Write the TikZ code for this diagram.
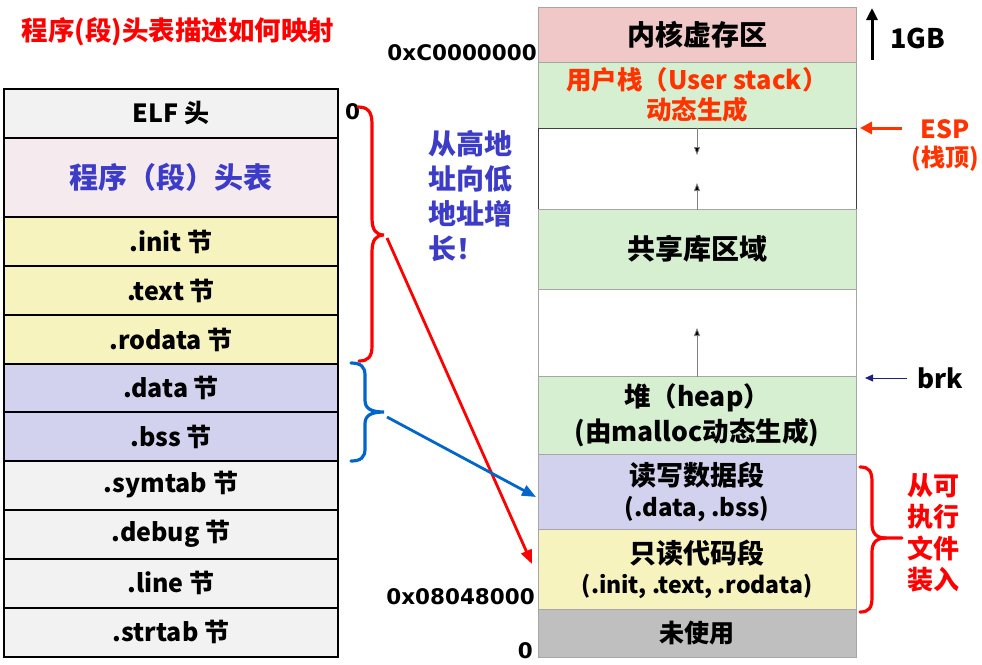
\documentclass[tikz,border=0pt]{standalone}
\usepackage{fontspec}
\setmainfont{Noto Sans CJK SC}
\newfontfamily\dvb{DejaVu Sans}
\usetikzlibrary{arrows.meta}
\definecolor{cgray}{HTML}{F2F2F2}
\definecolor{cpink}{HTML}{F5EBEF}
\definecolor{cyel}{HTML}{F6F3BE}
\definecolor{clav}{HTML}{D2D2EE}
\definecolor{ckern}{HTML}{F0C8C8}
\definecolor{cgreen}{HTML}{D6EFD0}
\definecolor{cunused}{HTML}{BFBFBF}
\definecolor{rline}{HTML}{A6A6A6}
\definecolor{tblue}{HTML}{3C3CC8}
\definecolor{tred}{HTML}{FF3300}
\definecolor{bblue}{HTML}{0066CC}
\definecolor{cnavy}{HTML}{1F1F7F}
\newcommand\fsz[2]{\fontsize{#1}{#2}\selectfont\bfseries}
\begin{document}
\begin{tikzpicture}[x=1pt,y=-1pt,
  lcell/.style={draw=black, line width=2pt, minimum width=334pt, inner sep=0pt, font=\fsz{25}{29}},
  rcell/.style={draw=rline, line width=1pt, minimum width=318pt, inner sep=0pt, align=center, font=\fsz{28}{32}},
  addr/.style={inner sep=0pt, font=\dvb\fsz{21.5}{24}},
  gline/.style={draw=gray, line width=0.8pt, -{Triangle[length=8pt,width=6pt,fill=black]}},
  bracestyle/.style={line width=3.2pt, line cap=round}
]
\useasboundingbox (0,0) rectangle (982,664);

% title
\node[inner sep=0pt, text=red, font=\fsz{26.5}{30}] (title) at (178,32) {程序(段)头表描述如何映射};

% left table
\node[lcell, fill=cgray, minimum height=49pt] (elf) at (171,113.5) {ELF 头};
\node[lcell, fill=cpink, minimum height=79pt, text=tblue, font=\fsz{29}{32}] (pht) at (171,177.5) {程序（段）头表};
\node[lcell, fill=cyel, minimum height=49pt] (init) at (171,241.5) {.init 节};
\node[lcell, fill=cyel, minimum height=49pt] (text) at (171,290.5) {.text 节};
\node[lcell, fill=cyel, minimum height=49pt] (rodata) at (171,339.5) {.rodata 节};
\node[lcell, fill=clav, minimum height=49pt] (data) at (171,388) {.data 节};
\node[lcell, fill=clav, minimum height=49pt] (bss) at (171,436.5) {.bss 节};
\node[lcell, fill=cgray, minimum height=49pt] (symtab) at (171,485) {.symtab 节};
\node[lcell, fill=cgray, minimum height=49pt] (debug) at (171,534) {.debug 节};
\node[lcell, fill=cgray, minimum height=49pt] (line) at (171,583) {.line 节};
\node[lcell, fill=cgray, minimum height=49pt] (strtab) at (171,632) {.strtab 节};

% right column
\node[rcell, fill=ckern, minimum height=55pt] (kern) at (697,34.5) {内核虚存区};
\node[rcell, fill=cgreen, minimum height=66pt, text=tred, font=\fsz{25.5}{30}] (ustack) at (697,95) {用户栈（User stack）\\动态生成};
\node[rcell, fill=white, draw=black!75, minimum height=81pt] (w1) at (697,168.5) {};
\node[rcell, fill=cgreen, minimum height=80pt] (shared) at (697,249) {共享库区域};
\node[rcell, fill=white, minimum height=87pt] (w2) at (697,332.5) {};
\node[rcell, fill=cgreen, minimum height=78pt, font=\fsz{26.5}{35}] (heap) at (697,415) {堆（heap）\\(由malloc动态生成)};
\node[rcell, fill=clav, minimum height=75pt, font=\fsz{27}{31}] (rwdata) at (697,491.5) {读写数据段\\{\fsz{24}{31}(.data, .bss)}};
\node[rcell, fill=cyel, minimum height=80pt, font=\fsz{27}{30}] (rocode) at (697,569) {只读代码段\\{\fsz{23}{30}(.init, .text, .rodata)}};
\node[rcell, fill=cunused, minimum height=48pt, font=\fsz{25}{30}] (unused) at (697,633) {未使用};

% growth arrows in white regions
\coordinate (s1) at (697,155);
\coordinate (s2) at (697,183);
\coordinate (s3) at (697,328);
\draw[gline] (w1.north) -- (s1);
\draw[gline] (w1.south) -- (s2);
\draw[gline] (w2.south) -- (s3);

% addresses
\node[addr, anchor=east] (a1) at (537,52.5) {0xC0000000};
\node[addr, anchor=east] (a2) at (535,596.5) {0x08048000};
\node[addr, anchor=east] (a3) at (533,651) {0};
\node[addr, anchor=west] (a0) at (345,112) {0};

% 1GB
\coordinate (g1) at (872,60);
\coordinate (g2) at (872,8);
\draw[line width=3pt, -{Triangle[length=12pt,width=11pt]}] (g1) -- (g2);
\node[inner sep=0pt, font=\fsz{27}{30}] (gb) at (918,38) {1GB};

% ESP
\node[inner sep=0pt, text=tred, font=\fsz{25}{30}] (esp) at (945,129) {ESP};
\node[inner sep=0pt, text=tred, font=\fsz{24}{30}] (espt) at (945,159) {(栈顶)};
\coordinate (e1) at (902,128);
\coordinate (e2) at (860,128);
\draw[tred, line width=3pt, -{Triangle[length=12pt,width=12pt]}] (e1) -- (e2);

% brk
\node[inner sep=0pt, font=\fsz{26}{30}] (brk) at (940,378) {brk};
\coordinate (k1) at (907,378);
\coordinate (k2) at (865,378);
\draw[cnavy, line width=0.8pt, -{Triangle[length=8pt,width=7pt]}] (k1) -- (k2);

% blue growth text
\node[inner sep=0pt, text=tblue, align=left, font=\fsz{28}{35}] (grow) at (470,196) {从高地\\址向低\\地址增\\长！};

% right red text
\node[inner sep=0pt, text=red, align=left, font=\fsz{26}{31.5}] (load) at (933,533) {从可\\执行\\文件\\装入};

% left red brace
\coordinate (rtip) at (384,235);
\draw[red, bracestyle] (358,107) .. controls (368,107) and (372,112) .. (372,124) -- (372,218) .. controls (372,230) and (376,235) .. (rtip) .. controls (376,235) and (372,240) .. (372,252) -- (372,346) .. controls (372,357) and (368,361) .. (359,361);
% left blue brace
\coordinate (btip) at (384,412);
\draw[bblue, bracestyle] (351,363) .. controls (361,363) and (365,367) .. (365,375) -- (365,400) .. controls (365,408) and (370,412) .. (btip) .. controls (370,412) and (365,416) .. (365,424) -- (365,449) .. controls (365,457) and (361,461) .. (351,461);
% right red brace
\coordinate (ltip) at (902,538);
\draw[red, bracestyle] (860,467) .. controls (869,467) and (872,471) .. (872,482) -- (872,524) .. controls (872,533) and (876,538) .. (886,538) -- (ltip);
\draw[red, bracestyle] (886,538) .. controls (876,538) and (872,543) .. (872,552) -- (872,597) .. controls (872,608) and (869,612) .. (860,612);

% mapping arrows
\coordinate (rs) at (387,238);
\coordinate (re) at (532,564);
\coordinate (bs) at (387,417);
\coordinate (be) at (536,497);
\draw[red, line width=2.8pt, -{Triangle[length=14pt,width=11pt]}] (rs) -- (re);
\draw[bblue, line width=2.8pt, -{Triangle[length=14pt,width=11pt]}] (bs) -- (be);
\end{tikzpicture}
\end{document}
